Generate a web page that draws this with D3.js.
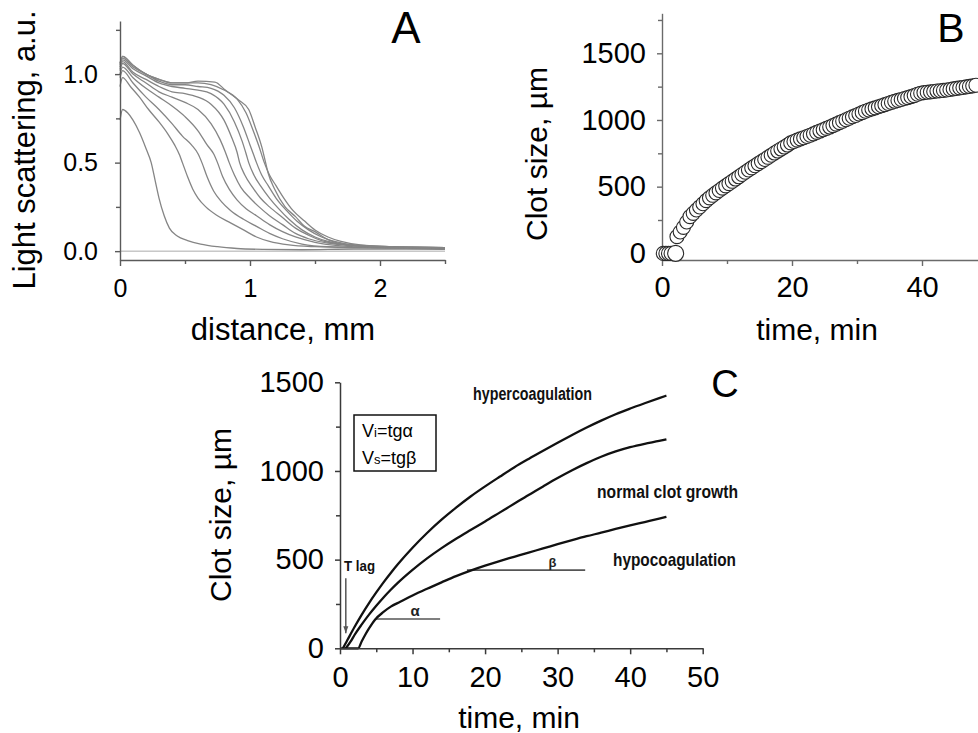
<!DOCTYPE html>
<html><head><meta charset="utf-8">
<script src="https://cdn.jsdelivr.net/npm/d3@7"></script>
<style>
html,body{margin:0;padding:0;background:#fff;}
svg{display:block;font-family:"Liberation Sans",Arial,Helvetica,sans-serif;}
</style></head><body>
<svg id="chart" width="978" height="733"></svg>
<script>
// ---------- Panel A: light scattering profiles (distance mm, a.u.) ----------
const aXTicks = [0, 1, 2];
const aXMinor = [0.5, 1.5, 2.5];
const aYTicks = [0.0, 0.5, 1.0];
const aYMinor = [0.25, 0.75, 1.25];
const aProfile1 = [[0,0.74],[0.02,0.80],[0.06,0.78],[0.1,0.74],[0.15,0.67],[0.2,0.58],[0.24,0.5],[0.27,0.40],[0.3,0.30],[0.34,0.2],[0.38,0.13],[0.44,0.085],[0.52,0.06],[0.62,0.04],[0.75,0.025],[0.9,0.015],[1.1,0.01],[1.4,0.008],[1.8,0.012],[2.2,0.012],[2.5,0.01]];
const aProfile2 = [[0,0.93],[0.02,0.98],[0.08,0.93],[0.15,0.87],[0.22,0.8],[0.3,0.73],[0.37,0.66],[0.42,0.6],[0.46,0.54],[0.48,0.5],[0.52,0.42],[0.56,0.35],[0.6,0.3],[0.66,0.25],[0.75,0.2],[0.85,0.16],[0.95,0.12],[1.05,0.08],[1.15,0.055],[1.3,0.035],[1.5,0.025],[1.8,0.02],[2.2,0.018],[2.5,0.015]];
const aProfile3 = [[0,0.98],[0.02,1.02],[0.1,0.95],[0.2,0.87],[0.3,0.8],[0.4,0.72],[0.48,0.65],[0.55,0.6],[0.6,0.55],[0.63,0.5],[0.67,0.42],[0.72,0.34],[0.78,0.28],[0.85,0.23],[0.95,0.18],[1.05,0.14],[1.15,0.1],[1.25,0.07],[1.4,0.04],[1.6,0.025],[2.0,0.02],[2.5,0.015]];
const aProfile4 = [[0,1.0],[0.02,1.04],[0.1,0.98],[0.2,0.92],[0.3,0.87],[0.4,0.82],[0.5,0.76],[0.6,0.68],[0.67,0.6],[0.72,0.55],[0.75,0.5],[0.79,0.42],[0.84,0.35],[0.9,0.29],[0.97,0.24],[1.05,0.2],[1.15,0.15],[1.25,0.11],[1.35,0.08],[1.5,0.05],[1.7,0.03],[2.0,0.02],[2.5,0.015]];
const aProfile5 = [[0,1.02],[0.02,1.06],[0.1,1.0],[0.2,0.95],[0.3,0.9],[0.4,0.87],[0.5,0.84],[0.6,0.8],[0.7,0.72],[0.77,0.63],[0.81,0.56],[0.84,0.5],[0.88,0.43],[0.93,0.36],[1.0,0.3],[1.07,0.25],[1.15,0.2],[1.25,0.15],[1.35,0.1],[1.45,0.07],[1.6,0.045],[1.8,0.03],[2.1,0.02],[2.5,0.018]];
const aProfile6 = [[0,1.03],[0.02,1.07],[0.1,1.01],[0.2,0.97],[0.3,0.93],[0.4,0.9],[0.5,0.89],[0.6,0.87],[0.7,0.83],[0.8,0.74],[0.86,0.64],[0.9,0.56],[0.92,0.5],[0.96,0.43],[1.02,0.36],[1.08,0.3],[1.15,0.25],[1.25,0.19],[1.35,0.13],[1.45,0.09],[1.55,0.06],[1.7,0.04],[2.0,0.025],[2.5,0.018]];
const aProfile7 = [[0,1.04],[0.02,1.08],[0.1,1.03],[0.2,0.99],[0.3,0.95],[0.4,0.93],[0.5,0.92],[0.6,0.91],[0.7,0.89],[0.8,0.83],[0.88,0.73],[0.94,0.62],[0.97,0.55],[0.99,0.5],[1.03,0.43],[1.08,0.37],[1.15,0.3],[1.22,0.24],[1.3,0.18],[1.4,0.12],[1.5,0.08],[1.6,0.055],[1.75,0.035],[2.0,0.025],[2.5,0.02]];
const aProfile8 = [[0,1.05],[0.02,1.09],[0.1,1.04],[0.2,1.0],[0.3,0.96],[0.4,0.94],[0.5,0.94],[0.6,0.93],[0.7,0.92],[0.8,0.88],[0.88,0.81],[0.95,0.7],[1.0,0.6],[1.03,0.54],[1.05,0.5],[1.09,0.43],[1.14,0.37],[1.2,0.3],[1.28,0.23],[1.36,0.17],[1.45,0.12],[1.55,0.08],[1.65,0.055],[1.8,0.035],[2.1,0.025],[2.5,0.02]];
const aProfile9 = [[0,1.06],[0.02,1.1],[0.1,1.05],[0.2,1.0],[0.3,0.97],[0.4,0.95],[0.5,0.95],[0.6,0.95],[0.7,0.94],[0.8,0.91],[0.9,0.86],[0.97,0.78],[1.03,0.67],[1.07,0.59],[1.11,0.5],[1.15,0.43],[1.2,0.37],[1.26,0.3],[1.33,0.23],[1.42,0.17],[1.5,0.12],[1.6,0.08],[1.7,0.055],[1.85,0.035],[2.1,0.025],[2.5,0.02]];
const aProfile10 = [[0,1.06],[0.02,1.1],[0.1,1.05],[0.2,1.0],[0.3,0.97],[0.4,0.95],[0.5,0.95],[0.6,0.96],[0.73,0.955],[0.81,0.91],[0.91,0.855],[0.99,0.8],[1.04,0.7],[1.09,0.59],[1.12,0.5],[1.14,0.44],[1.19,0.35],[1.27,0.25],[1.35,0.195],[1.42,0.14],[1.5,0.11],[1.6,0.065],[1.76,0.035],[2.0,0.025],[2.5,0.02]];

// ---------- Panel B: clot size vs time (circles) ----------
const bXTicks = [0, 20, 40];
const bXMinor = [10, 30, 50];
const bYTicks = [0, 500, 1000, 1500];
const bYMinor = [250, 750, 1250, 1750];
const bLagTimes = [0.2, 0.6, 1.0, 1.4];
const bLagSizes = [0, 0, 0, 0];
const bOnsetTime = [2.1];
const bOnsetSize = [0];
const bTimes = [2.3,2.8,3.3,3.8,4.3,4.8,5.3,5.8,6.3,6.8,7.3,7.8,8.3,8.8,9.3,9.8,10.3,10.8,11.3,11.8,12.3,12.8,13.3,13.8,14.3,14.8,15.3,15.8,16.3,16.8,17.3,17.8,18.3,18.8,19.3,19.8,20.3,20.8,21.3,21.8,22.3,22.8,23.3,23.8,24.3,24.8,25.3,25.8,26.3,26.8,27.3,27.8,28.3,28.8,29.3,29.8,30.3,30.8,31.3,31.8,32.3,32.8,33.3,33.8,34.3,34.8,35.3,35.8,36.3,36.8,37.3,37.8,38.3,38.8,39.3,39.8,40.3,40.8,41.3,41.8,42.3,42.8,43.3,43.8,44.3,44.8,45.3,45.8,46.3,46.8,47.3,47.8,48.3];
const bSizes = [125,160,195,235,275,300,325,348,372,395,416,435,453,471,489,506,523,540,557,574,591,608,625,641,657,673,688,704,720,736,752,767,782,797,812,828,839,849,858,867,876,886,896,907,917,927,937,947,958,969,980,991,1002,1013,1024,1034,1045,1055,1066,1075,1083,1091,1099,1107,1115,1124,1132,1140,1147,1154,1161,1168,1175,1183,1193,1201,1205,1208,1211,1214,1217,1219,1222,1225,1229,1233,1237,1241,1244,1248,1252,1256,1261];

// ---------- Panel C: schematic clot growth curves ----------
const cXTicks = [0, 10, 20, 30, 40, 50];
const cXMinor = [5, 15, 25, 35, 45];
const cYTicks = [0, 500, 1000, 1500];
const cYMinor = [250, 750, 1250];
const cHyper = [[0.4,0],[1,45],[2,120],[3,190],[4,255],[5,315],[6,372],[7,425],[8,475],[10,567],[12,650],[14,725],[16,793],[18,856],[20,913],[22,967],[24,1020],[26,1068],[28,1114],[30,1159],[32,1203],[34,1245],[36,1284],[38,1320],[40,1352],[42,1382],[44,1411],[45,1425]];
const cNormal = [[0.8,0],[1.5,40],[2,75],[3,135],[4,190],[5,240],[6,287],[7,330],[8,370],[10,442],[12,507],[14,565],[16,618],[18,667],[20,715],[22,765],[24,815],[26,865],[28,913],[30,960],[32,1004],[34,1044],[36,1080],[38,1110],[40,1134],[42,1153],[44,1169],[45,1178]];
const cHypo = [[0,0],[2.5,0],[3,40],[3.5,78],[4,112],[4.8,160],[6,205],[7,235],[8.3,262],[10,298],[12,336],[14,372],[16,407],[18,438],[20,466],[22,492],[24,516],[26,540],[28,563],[30,587],[32,610],[34,632],[36,652],[38,673],[40,693],[42,712],[44,731],[45,741]];
const cCurveLabels = ["hypercoagulation", "normal clot growth", "hypocoagulation"];
const cAlphaLine = [[4.8,165],[13.8,165]];
const cBetaLine = [[17.5,441],[33.8,441]];
const cLagArrow = [[0.8,395],[0.8,85]];

const svg = d3.select("#chart");
svg.append("rect").attr("width",978).attr("height",733).attr("fill","#fff");

function styleAxis(g, fontSize, color, width){
  g.select(".domain").attr("stroke",color).attr("stroke-width",width);
  g.selectAll(".tick line").attr("stroke",color).attr("stroke-width",width);
  g.selectAll(".tick text").attr("fill","#000").attr("font-size",fontSize)
    .attr("font-family",'"Liberation Sans",Arial,sans-serif');
}
function minorAxis(g){ g.select(".domain").remove(); }

function drawAxes(x, y, xMaj, xMin, yMaj, yMin, fmtX, fmtY, fs, color, width, xPad, yPad){
  const y0 = y.range()[0], x0 = x.range()[0];
  const gx = svg.append("g").attr("transform",`translate(0,${y0})`)
    .call(d3.axisBottom(x).tickValues(xMaj).tickSize(6).tickSizeOuter(0).tickPadding(xPad).tickFormat(fmtX));
  styleAxis(gx, fs, color, width);
  const gxm = svg.append("g").attr("transform",`translate(0,${y0})`)
    .call(d3.axisBottom(x).tickValues(xMin).tickSize(4).tickFormat(""));
  minorAxis(gxm); styleAxis(gxm, fs, color, width);
  const gy = svg.append("g").attr("transform",`translate(${x0},0)`)
    .call(d3.axisLeft(y).tickValues(yMaj).tickSize(5).tickSizeOuter(0).tickPadding(yPad).tickFormat(fmtY));
  styleAxis(gy, fs, color, width);
  const gym = svg.append("g").attr("transform",`translate(${x0},0)`)
    .call(d3.axisLeft(y).tickValues(yMin).tickSize(4).tickFormat(""));
  minorAxis(gym); styleAxis(gym, fs, color, width);
}

function title(txt, x, y, size, rotate){
  const t = svg.append("text").attr("font-size",size).attr("text-anchor","middle").attr("fill","#000").text(txt);
  if(rotate) t.attr("transform",`translate(${x},${y}) rotate(-90)`);
  else t.attr("x",x).attr("y",y);
  return t;
}

// ===== Panel A =====
const ax = d3.scaleLinear().domain([0,2.5]).range([120,445]);
const ay = d3.scaleLinear().domain([-0.05,1.3]).range([260,21]);
svg.append("line").attr("x1",ax(0)).attr("x2",ax(2.5)).attr("y1",ay(0)).attr("y2",ay(0))
  .attr("stroke","#aaa").attr("stroke-width",1);
const aLine = d3.line().x(d=>ax(d[0])).y(d=>ay(d[1])).curve(d3.curveMonotoneX);
[aProfile1,aProfile2,aProfile3,aProfile4,aProfile5,aProfile6,aProfile7,aProfile8,aProfile9,aProfile10].forEach(p=>{
  svg.append("path").attr("d",aLine(p)).attr("fill","none").attr("stroke","#858585").attr("stroke-width",1.3);
});
drawAxes(ax, ay, aXTicks, aXMinor, aYTicks, aYMinor, d3.format("d"), d3.format(".1f"), 25, "#5a5a5a", 1.4, 13, 17);
title("Light scattering, a.u.", 35, 150, 31, true);
title("distance, mm", 283, 340, 31, false);
title("A", 406, 43, 44, false);

// ===== Panel B =====
const bx = d3.scaleLinear().domain([0,50]).range([662,987]);
const by = d3.scaleLinear().domain([-50,1800]).range([260,13.3]);
drawAxes(bx, by, bXTicks, bXMinor, bYTicks, bYMinor, d3.format("d"), d3.format("d"), 29, "#6a6a6a", 1.4, 10, 11);
const bg = svg.append("g");
function bCircle(t, v, r){
  bg.append("circle").attr("cx",bx(t)).attr("cy",by(v)).attr("r",r)
    .attr("fill","#fff").attr("stroke","#2a2a2a").attr("stroke-width",1.1);
}
bLagTimes.forEach((t,i)=>bCircle(t, bLagSizes[i], 7));
bTimes.forEach((t,i)=>bCircle(t, bSizes[i], 7));
bOnsetTime.forEach((t,i)=>bCircle(t, bOnsetSize[i], 8));
title("Clot size, \u00b5m", 547, 154, 30, true);
title("time, min", 817, 340, 30, false);
title("B", 951, 42, 41, false);

// ===== Panel C =====
const cx = d3.scaleLinear().domain([0,50]).range([340,702.7]);
const cy = d3.scaleLinear().domain([0,1500]).range([648.3,382.3]);
const cLine = d3.line().x(d=>cx(d[0])).y(d=>cy(d[1])).curve(d3.curveMonotoneX);
const straight = d3.line().x(d=>cx(d[0])).y(d=>cy(d[1]));
[cAlphaLine, cBetaLine].forEach(l=>{
  svg.append("path").attr("d",straight(l)).attr("stroke","#555").attr("stroke-width",1.6).attr("fill","none");
});
svg.append("path").attr("d",straight(cLagArrow)).attr("stroke","#555").attr("stroke-width",1.5).attr("fill","none");
{
  const tx = cx(cLagArrow[1][0]), ty = cy(cLagArrow[1][1]);
  svg.append("path").attr("d",`M${tx-2.5},${ty-7}L${tx+2.5},${ty-7}L${tx},${ty}Z`).attr("fill","#555");
}
[cHyper, cNormal, cHypo].forEach(p=>{
  svg.append("path").attr("d",cLine(p)).attr("fill","none").attr("stroke","#111").attr("stroke-width",2.3);
});
drawAxes(cx, cy, cXTicks, cXMinor, cYTicks, cYMinor, d3.format("d"), d3.format("d"), 29, "#3a3a3a", 1.5, 12, 11);
title("Clot size, \u00b5m", 231, 515, 30, true);
title("time, min", 519, 728, 30, false);
title("C", 725, 397, 38, false);

const narrow = '"Liberation Sans Narrow","Arial Narrow","Liberation Sans",Arial,sans-serif';
function nlabel(txt, x, y, size, len){
  const t = svg.append("text").attr("x",x).attr("y",y).attr("font-size",size)
    .attr("font-family",narrow).attr("font-weight","bold").attr("fill","#111").text(txt);
  if(len) t.attr("textLength",len).attr("lengthAdjust","spacingAndGlyphs");
  return t;
}
nlabel(cCurveLabels[0], 473, 400, 18, 119);
nlabel(cCurveLabels[1], 597, 498, 18, 141);
nlabel(cCurveLabels[2], 613, 566, 19, 123);
nlabel("T lag", 344, 571, 15, 31);
svg.append("text").attr("x",415).attr("y",616).attr("font-size",15).attr("text-anchor","middle")
  .attr("font-weight","bold").attr("fill","#222").text("\u03b1");
svg.append("text").attr("x",552.5).attr("y",567).attr("font-size",13).attr("text-anchor","middle")
  .attr("font-weight","bold").attr("fill","#222").text("\u03b2");

// formula box
svg.append("rect").attr("x",354).attr("y",415).attr("width",82).attr("height",56)
  .attr("fill","#fff").attr("stroke","#111").attr("stroke-width",1.5);
const f1 = svg.append("text").attr("x",362).attr("y",437).attr("font-size",18).attr("fill","#000");
f1.append("tspan").text("V"); f1.append("tspan").attr("font-size",13).text("i"); f1.append("tspan").text("=tg\u03b1");
const f2 = svg.append("text").attr("x",362).attr("y",464).attr("font-size",18).attr("fill","#000");
f2.append("tspan").text("V"); f2.append("tspan").attr("font-size",13).text("s"); f2.append("tspan").text("=tg\u03b2");
</script>
</body></html>
